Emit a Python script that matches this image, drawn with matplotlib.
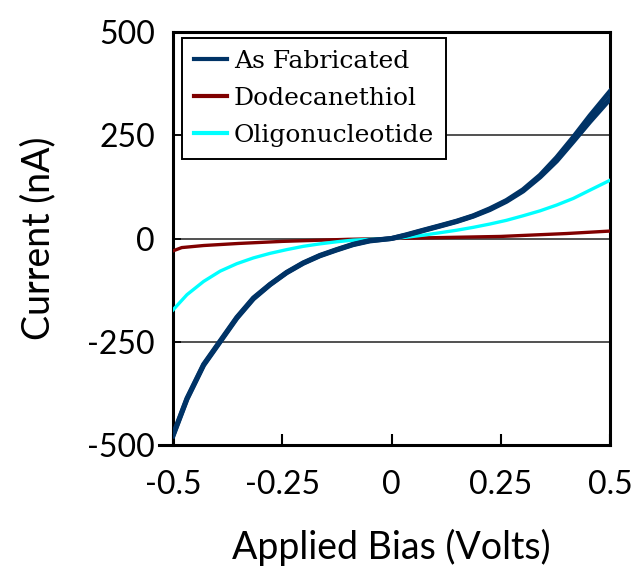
import numpy as np
import matplotlib
matplotlib.use("Agg")
from matplotlib import pyplot as plt

plt.rcParams["axes.unicode_minus"] = False

# bias points (V)
bias = [-0.5, -0.468, -0.43, -0.392, -0.354, -0.316, -0.278, -0.24, -0.202,
        -0.164, -0.126, -0.088, -0.05, 0.0, 0.034, 0.072, 0.111, 0.149,
        0.187, 0.225, 0.263, 0.301, 0.34, 0.378, 0.416, 0.454, 0.5]

# as fabricated: two sweeps (small hysteresis at high bias)
fab_fwd = [-478, -389, -307, -250, -193, -146, -112, -83, -60, -42, -28, -15,
           -6, 0, 8, 19, 30, 41, 54, 70, 90, 115, 149, 188, 235, 283, 338]
fab_rev = [-476, -387, -305, -248, -191, -144, -111, -82, -59, -41, -27, -14,
           -5, 0, 9, 20, 31, 42, 55, 72, 92, 118, 153, 196, 245, 297, 356]

oligo = [-173, -136, -104, -79, -61, -47, -36, -27, -19, -13, -8, -4, -2, 0,
         3, 8, 14, 20, 27, 35, 44, 55, 67, 81, 97, 117, 141]

bias_dodec = [-0.5, -0.48, -0.43, -0.35, -0.25, -0.1, 0.0, 0.1, 0.25, 0.4, 0.5]
dodec = [-30, -22, -17, -12, -7, -2, 0, 2, 5, 12, 18]

xticks = [-0.5, -0.25, 0, 0.25, 0.5]
xticklabels = ["-0.5", "-0.25", "0", "0.25", "0.5"]
yticks = [-500, -250, 0, 250, 500]

fig = plt.figure(figsize=(6.36, 5.72), dpi=100)
ax = fig.add_axes([173/636, 1-445/572, 437/636, 413/572])

ax.plot(bias, fab_fwd, color="#003366", lw=3.6, label="As Fabricated", zorder=4)
ax.plot(bias, fab_rev, color="#003366", lw=3.6, zorder=4)
ax.plot(bias_dodec, dodec, color="#800000", lw=2.4, label="Dodecanethiol", zorder=3)
ax.plot(bias, oligo, color="#00FFFF", lw=2.4, label="Oligonucleotide", zorder=3)

ax.set_xlim(-0.5, 0.5)
ax.set_ylim(-500, 500)
ax.set_xticks(xticks)
ax.set_xticklabels(xticklabels)
ax.set_yticks(yticks)

ax.yaxis.grid(True, color="#222222", lw=1.1)
ax.set_axisbelow(True)

for s in ax.spines.values():
    s.set_linewidth(2.2)
ax.spines["bottom"].set_bounds(-0.532, 0.5)

ax.tick_params(axis="x", direction="in", length=8, width=1.5, pad=18,
               labelsize=23)
ax.tick_params(axis="y", direction="in", length=6, width=1.2, pad=13,
               labelsize=23)
for lab in ax.get_xticklabels() + ax.get_yticklabels():
    lab.set_family("Lato")

ax.set_xlabel("Applied Bias (Volts)", family="Lato", fontsize=27, labelpad=21)
ax.set_ylabel("Current (nA)", family="Lato", fontsize=27, labelpad=22)

leg = ax.legend(loc="upper left", bbox_to_anchor=(9/437, 1-6/413),
                borderaxespad=0, fancybox=False, framealpha=1,
                edgecolor="black", handlelength=1.3, handletextpad=0.3,
                labelspacing=0.56, borderpad=0.48,
                prop={"family": "DejaVu Serif", "size": 18})
leg.get_frame().set_linewidth(1.4)
leg.set_zorder(5)
for h in leg.get_lines():
    h.set_linewidth(3)

fig.savefig("out.png", dpi=100)
